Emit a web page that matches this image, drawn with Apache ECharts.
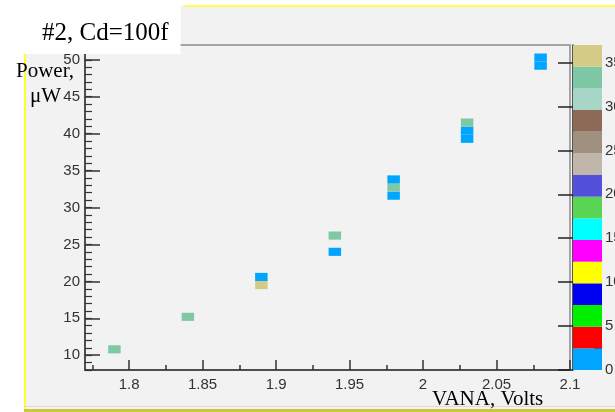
<!DOCTYPE html>
<html>
<head>
<meta charset="utf-8">
<script src="https://cdn.jsdelivr.net/npm/echarts@6/dist/echarts.min.js"></script>
<style>
  html, body { margin: 0; padding: 0; background: #fff; }
  #chart { width: 615px; height: 412px; }
</style>
</head>
<body>
<div id="chart"></div>
<script>
// Filled cells of the 2-D histogram: bin centre (VANA, power) and content
const voltage = [1.79, 1.84, 1.89, 1.89, 1.94, 1.94, 1.98, 1.98, 1.98, 2.03, 2.03, 2.03, 2.08, 2.08];
const power   = [10.8, 15.2, 19.5, 20.6, 24.0, 26.2, 31.6, 32.7, 33.8, 39.3, 40.4, 41.5, 49.2, 50.3];
const counts  = [33,   33,   36,   1,    1,    33,   1,    33,   1,    1,    1,    33,   1,    1];

// Axis ticks
const xMajorTicks = [1.8, 1.85, 1.9, 1.95, 2, 2.05, 2.1];
const xMinorTicks = [1.775, 1.825, 1.875, 1.925, 1.975, 2.025, 2.075];
const yMajorTicks = [10, 15, 20, 25, 30, 35, 40, 45, 50];
const zMajorTicks = [0, 5, 10, 15, 20, 25, 30, 35];
const zMinorTicks = [2.5, 7.5, 12.5, 17.5, 22.5, 27.5, 32.5];

// Colour palette, lowest band first
const palette = ['#00a5ff', '#ff0000', '#00f000', '#0000f0', '#ffff00', '#ff00ff', '#00ffff',
                 '#59d454', '#5450dc', '#c0b6aa', '#a0907f', '#8d6a57', '#a8d6c6', '#7ec8a6', '#d4cc86'];

const X_MIN = 1.77, X_MAX = 2.1, Y_MIN = 8, Y_MAX = 52, Z_MAX = 37;
const BIN_W = 0.0085, BIN_H = 1.1;

function colorFor(z) {
  const n = palette.length;
  const i = Math.min(n - 1, Math.floor(z / (Z_MAX / n)));
  return palette[i];
}

const cells = voltage.map((v, i) => [v, power[i], counts[i]]);
const bands = palette.map((c, i) => [i]);

const labelFont = { fontFamily: 'Liberation Sans', fontSize: 15, color: '#333' };
const serif = 'Liberation Serif';

const chart = echarts.init(document.getElementById('chart'), null, { renderer: 'canvas' });

chart.setOption({
  animation: false,
  backgroundColor: '#ffffff',
  title: {
    text: '#2, Cd=100f',
    left: 0, top: 0,
    padding: [21, 12, 8, 42],
    backgroundColor: '#ffffff',
    textStyle: { fontFamily: serif, fontSize: 25, fontWeight: 'normal', color: '#000' },
    z: 20
  },
  grid: [
    { left: 85, top: 45, width: 485, height: 325, show: true, backgroundColor: '#f2f2f2',
      borderColor: '#8c8c8c', borderWidth: 1.5, containLabel: false, outerBoundsMode: 'none' },
    { left: 573, top: 45, width: 29, height: 325, show: false, containLabel: false, outerBoundsMode: 'none' }
  ],
  xAxis: [
    { type: 'value', gridIndex: 0, position: 'bottom', min: X_MIN, max: X_MAX,
      axisLine: { show: true, lineStyle: { color: '#333', width: 1.5 } },
      axisTick: { show: true, inside: true, length: 10, customValues: xMajorTicks, lineStyle: { color: '#333', width: 1.5 } },
      axisLabel: Object.assign({ show: true, margin: 7, customValues: xMajorTicks }, labelFont),
      splitLine: { show: false } },
    { type: 'value', gridIndex: 0, position: 'bottom', min: X_MIN, max: X_MAX,
      axisLine: { show: false },
      axisTick: { show: true, inside: true, length: 5, customValues: xMinorTicks, lineStyle: { color: '#333', width: 1.5 } },
      axisLabel: { show: false },
      splitLine: { show: false } },
    { type: 'value', gridIndex: 1, min: 0, max: 1, show: false }
  ],
  yAxis: [
    { type: 'value', gridIndex: 0, position: 'left', min: Y_MIN, max: Y_MAX,
      axisLine: { show: true, lineStyle: { color: '#333', width: 1.5 } },
      axisTick: { show: true, inside: true, length: 15, customValues: yMajorTicks, lineStyle: { color: '#333', width: 1.5 } },
      axisLabel: Object.assign({ show: true, margin: 5, customValues: yMajorTicks }, labelFont),
      splitLine: { show: false } },
    { type: 'value', gridIndex: 0, position: 'left', min: Y_MIN, max: Y_MAX, interval: 1,
      axisLine: { show: false },
      axisTick: { show: true, inside: true, length: 7, lineStyle: { color: '#333', width: 1.2 } },
      axisLabel: { show: false },
      splitLine: { show: false } },
    { type: 'value', gridIndex: 1, position: 'right', min: 0, max: Z_MAX,
      axisLine: { show: true, lineStyle: { color: '#222', width: 1.5 } },
      axisTick: { show: true, inside: true, length: 15, customValues: zMajorTicks, lineStyle: { color: '#222', width: 1.5 } },
      axisLabel: Object.assign({ show: true, margin: 3, customValues: zMajorTicks }, labelFont),
      splitLine: { show: false } },
    { type: 'value', gridIndex: 1, position: 'right', min: 0, max: Z_MAX,
      axisLine: { show: false },
      axisTick: { show: true, inside: true, length: 8, customValues: zMinorTicks, lineStyle: { color: '#222', width: 1.2 } },
      axisLabel: { show: false },
      splitLine: { show: false } }
  ],
  series: [
    {
      // histogram cells
      type: 'custom',
      xAxisIndex: 0, yAxisIndex: 0,
      data: cells,
      encode: { x: 0, y: 1 },
      clip: true,
      z: 5,
      renderItem: function (params, api) {
        const x = api.value(0), y = api.value(1), z = api.value(2);
        const p0 = api.coord([x - BIN_W / 2, y + BIN_H / 2]);
        const p1 = api.coord([x + BIN_W / 2, y - BIN_H / 2]);
        return {
          type: 'rect',
          shape: { x: p0[0], y: p0[1], width: p1[0] - p0[0], height: p1[1] - p0[1] },
          style: { fill: colorFor(z) }
        };
      }
    },
    {
      // colour palette bar
      type: 'custom',
      xAxisIndex: 2, yAxisIndex: 2,
      data: bands,
      z: 1,
      renderItem: function (params, api) {
        const i = api.value(0);
        const step = Z_MAX / palette.length;
        const p0 = api.coord([0, (i + 1) * step]);
        const p1 = api.coord([1, i * step]);
        return {
          type: 'rect',
          shape: { x: p0[0], y: p0[1], width: p1[0] - p0[0], height: p1[1] - p0[1] },
          style: { fill: palette[i] }
        };
      }
    }
  ],
  graphic: [
    // pad background and its coloured edges
    { type: 'rect', z: -10, shape: { x: 24, y: 5, width: 600, height: 404 }, style: { fill: '#f2f2f2' } },
    { type: 'rect', z: -9, shape: { x: 185, y: 5, width: 440, height: 2 }, style: { fill: '#ffff4a' } },
    { type: 'rect', z: -9, shape: { x: 24, y: 53, width: 2, height: 356 }, style: { fill: '#ffff30' } },
    { type: 'rect', z: -9, shape: { x: 24, y: 406, width: 600, height: 1 }, style: { fill: '#dcdcdc' } },
    { type: 'rect', z: -9, shape: { x: 24, y: 409, width: 600, height: 3 }, style: { fill: '#c8c83a' } },
    // axis titles
    { type: 'text', z: 20, left: 16, top: 61,
      style: { text: 'Power,', fontFamily: serif, fontSize: 21, fill: '#000' } },
    { type: 'text', z: 20, left: 30, top: 86,
      style: { text: 'μW', fontFamily: serif, fontSize: 21, fill: '#000' } },
    { type: 'text', z: 20, left: 432, top: 389,
      style: { text: 'VANA, Volts', fontFamily: serif, fontSize: 21, fill: '#000' } }
  ]
});
</script>
</body>
</html>
